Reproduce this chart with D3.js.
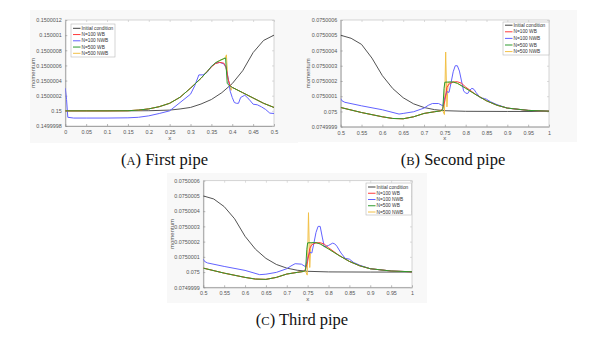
<!DOCTYPE html>
<html><head><meta charset="utf-8">
<script src="https://cdn.jsdelivr.net/npm/d3@7"></script>
<style>html,body{margin:0;padding:0;background:#fff}svg{display:block}</style>
</head><body><svg id="c" width="591" height="342"></svg>
<script>
// ---------- DATA (momentum values) ----------
const seriesNames = ["Initial condition","N=100 WB","N=100 NWB","N=500 WB","N=500 NWB"];
const seriesColors = ["#404040","#ff3b3b","#6262ff","#2e9a2e","#f2c046"];

// Panel A : first pipe
const xTicksA = [0,0.05,0.1,0.15,0.2,0.25,0.3,0.35,0.4,0.45,0.5];
const yTicksA = [0.1499998,0.15,0.1500002,0.1500004,0.1500006,0.1500008,0.150001,0.1500012];
const A_init_x = [0,0.05,0.1,0.15,0.2,0.25,0.275,0.3,0.325,0.35,0.375,0.4,0.425,0.45,0.475,0.5];
const A_init_y = [0.15,0.15,0.15,0.15,0.150000002,0.15000001,0.150000025,0.150000045,0.15000009,0.15000015,0.15000024,0.15000036,0.15000053,0.15000077,0.15000093,0.1500010];
const A_r100_x = [0,0.05,0.1,0.15,0.175,0.2,0.225,0.25,0.275,0.3,0.325,0.34,0.35,0.36,0.37,0.38,0.385,0.39,0.395,0.4,0.425,0.45,0.475,0.5];
const A_r100_y = [0.15,0.15,0.15,0.150000002,0.15000001,0.150000026,0.150000055,0.1500001,0.15000018,0.1500003,0.15000043,0.15000052,0.15000058,0.150000625,0.15000064,0.15000063,0.15000058,0.15000042,0.15000033,0.15000031,0.15000024,0.15000017,0.1500001,0.150000045];
const A_b100_x = [0,0.003,0.006,0.02,0.05,0.1,0.15,0.175,0.2,0.225,0.25,0.275,0.3,0.31,0.32,0.33,0.34,0.35,0.36,0.37,0.38,0.385,0.39,0.395,0.4,0.405,0.41,0.415,0.42,0.43,0.44,0.45,0.46,0.47,0.48,0.49,0.5];
const A_b100_y = [0.1500003,0.15000015,0.149999915,0.149999905,0.149999905,0.149999905,0.149999908,0.149999915,0.149999934,0.149999965,0.15,0.15000011,0.15000022,0.15000033,0.150000475,0.150000475,0.15000051,0.15000059,0.15000063,0.15000064,0.15000062,0.15000057,0.15000044,0.15000026,0.150000176,0.15000011,0.1500001,0.1500001,0.150000176,0.150000207,0.150000154,0.150000088,0.15000008,0.150000053,0.150000018,0.14999997,0.149999965];
const A_g500_x = [0,0.05,0.1,0.15,0.175,0.2,0.225,0.25,0.275,0.3,0.325,0.34,0.35,0.36,0.37,0.38,0.384,0.388,0.392,0.4,0.425,0.45,0.475,0.5];
const A_g500_y = [0.15,0.15,0.15,0.150000002,0.15000001,0.150000026,0.150000055,0.1500001,0.15000018,0.1500003,0.15000043,0.15000052,0.150000585,0.150000635,0.150000665,0.15000069,0.1500007,0.15000036,0.15000034,0.15000031,0.15000024,0.15000017,0.1500001,0.150000045];
const A_y500_x = [0,0.05,0.1,0.15,0.175,0.2,0.225,0.25,0.275,0.3,0.325,0.34,0.35,0.36,0.37,0.38,0.384,0.386,0.389,0.393,0.397,0.4,0.425,0.45,0.475,0.5];
const A_y500_y = [0.15,0.15,0.15,0.150000002,0.15000001,0.150000026,0.150000055,0.1500001,0.15000018,0.1500003,0.15000043,0.15000052,0.150000585,0.150000635,0.150000665,0.15000069,0.15000071,0.15000074,0.15000045,0.15000035,0.15000027,0.15000031,0.15000024,0.15000017,0.1500001,0.150000045];

// Panel B : second pipe
const xTicksB = [0.5,0.55,0.6,0.65,0.7,0.75,0.8,0.85,0.9,0.95,1];
const yTicksB = [0.0749999,0.075,0.0750001,0.0750002,0.0750003,0.0750004,0.0750005,0.0750006];
const B_init_x = [0.5,0.525,0.55,0.575,0.6,0.625,0.65,0.675,0.7,0.725,0.75,0.8,0.9,1];
const B_init_y = [0.0750005,0.07500048,0.07500044,0.07500035,0.075000235,0.07500015,0.07500009,0.07500005,0.075000026,0.075000012,0.075000005,0.075000001,0.075,0.075];
const B_r100_x = [0.5,0.55,0.6,0.625,0.65,0.675,0.7,0.725,0.74,0.745,0.75,0.755,0.76,0.77,0.78,0.79,0.8,0.825,0.85,0.875,0.9,0.95,1];
const B_r100_y = [0.075000026,0.074999993,0.074999965,0.074999954,0.074999952,0.074999965,0.074999987,0.074999998,0.075000004,0.07500002,0.07500007,0.075000157,0.07500018,0.075000193,0.075000195,0.075000185,0.07500016,0.07500011,0.07500007,0.075000041,0.075000022,0.075000007,0.075000002];
const B_b100_x = [0.5,0.503,0.51,0.55,0.6,0.64,0.65,0.675,0.7,0.71,0.72,0.735,0.745,0.75,0.755,0.76,0.765,0.77,0.775,0.78,0.785,0.79,0.795,0.8,0.805,0.81,0.815,0.82,0.825,0.835,0.845,0.85,0.86,0.875,0.9,0.95,1];
const B_b100_y = [0.075000085,0.07500007,0.07500006,0.075000037,0.075000011,0.074999983,0.074999987,0.074999998,0.075000022,0.07500004,0.075000052,0.075000052,0.075000037,0.07500009,0.07500013,0.075000125,0.07500019,0.07500026,0.0750003,0.0750003,0.075000265,0.0750002,0.075000135,0.07500012,0.075000118,0.07500014,0.075000152,0.075000145,0.075000124,0.07500009,0.075000085,0.07500008,0.075000063,0.075000045,0.075000022,0.075000007,0.075000002];
const B_g500_x = [0.5,0.55,0.6,0.625,0.65,0.675,0.7,0.725,0.74,0.745,0.748,0.75,0.76,0.77,0.78,0.8,0.825,0.85,0.875,0.9,0.95,1];
const B_g500_y = [0.075000026,0.074999993,0.074999965,0.074999954,0.074999952,0.074999965,0.074999987,0.074999998,0.075000004,0.07500001,0.07500015,0.075000192,0.075000193,0.075000193,0.075000185,0.075000152,0.075000109,0.07500007,0.075000041,0.075000022,0.075000007,0.075000002];
const B_y500_x = [0.5,0.55,0.6,0.625,0.65,0.675,0.7,0.725,0.74,0.745,0.749,0.752,0.755,0.758,0.762,0.77,0.78,0.8,0.825,0.85,0.875,0.9,0.95,1];
const B_y500_y = [0.075000026,0.074999993,0.074999965,0.074999954,0.074999952,0.074999965,0.074999987,0.074999998,0.075000004,0.075000005,0.07499998,0.07500039,0.07500003,0.07500019,0.075000193,0.075000193,0.075000185,0.075000152,0.075000109,0.07500007,0.075000041,0.075000022,0.075000007,0.075000002];

// Panel C : third pipe
const xTicksC = [0.5,0.55,0.6,0.65,0.7,0.75,0.8,0.85,0.9,0.95,1];
const yTicksC = [0.0749999,0.075,0.0750001,0.0750002,0.0750003,0.0750004,0.0750005,0.0750006];
const C_init_x = [0.5,0.525,0.55,0.575,0.6,0.625,0.65,0.675,0.7,0.725,0.75,0.8,0.9,1];
const C_init_y = [0.0750005,0.07500048,0.07500043,0.07500035,0.075000235,0.07500015,0.07500009,0.07500005,0.075000026,0.075000012,0.075000005,0.075000001,0.075,0.075];
const C_r100_x = [0.5,0.55,0.6,0.625,0.65,0.675,0.7,0.725,0.74,0.745,0.75,0.755,0.76,0.77,0.78,0.79,0.8,0.825,0.85,0.875,0.9,0.95,1];
const C_r100_y = [0.075000026,0.074999993,0.074999965,0.074999954,0.074999952,0.074999965,0.074999987,0.074999998,0.075000004,0.07500002,0.07500007,0.075000155,0.07500018,0.075000192,0.075000193,0.075000183,0.07500016,0.07500011,0.07500007,0.075000041,0.075000022,0.075000007,0.075000002];
const C_b100_x = [0.5,0.503,0.51,0.55,0.6,0.635,0.65,0.675,0.7,0.71,0.72,0.735,0.745,0.75,0.755,0.76,0.765,0.77,0.775,0.78,0.785,0.79,0.8,0.81,0.815,0.82,0.83,0.84,0.85,0.86,0.875,0.9,0.95,1];
const C_b100_y = [0.075000085,0.07500007,0.07500006,0.075000037,0.075000011,0.074999983,0.074999986,0.074999998,0.075000022,0.07500004,0.075000055,0.075000052,0.075000035,0.07500009,0.07500013,0.075000125,0.07500019,0.07500026,0.0750003,0.0750003,0.07500023,0.075000165,0.075000175,0.07500019,0.075000185,0.07500017,0.075000125,0.07500009,0.075000085,0.075000063,0.075000045,0.075000022,0.075000007,0.075000002];
const C_g500_x = [0.5,0.55,0.6,0.625,0.65,0.675,0.7,0.725,0.74,0.745,0.748,0.75,0.76,0.77,0.78,0.8,0.825,0.85,0.875,0.9,0.95,1];
const C_g500_y = [0.075000026,0.074999993,0.074999965,0.074999954,0.074999952,0.074999965,0.074999987,0.074999998,0.075000004,0.07500001,0.07500015,0.075000192,0.075000193,0.075000193,0.075000185,0.075000152,0.075000109,0.07500007,0.075000041,0.075000022,0.075000007,0.075000002];
const C_y500_x = [0.5,0.55,0.6,0.625,0.65,0.675,0.7,0.725,0.74,0.745,0.749,0.752,0.755,0.758,0.762,0.77,0.78,0.8,0.825,0.85,0.875,0.9,0.95,1];
const C_y500_y = [0.075000026,0.074999993,0.074999965,0.074999954,0.074999952,0.074999965,0.074999987,0.074999998,0.075000004,0.075000005,0.07499998,0.07500039,0.07500003,0.07500019,0.075000193,0.075000193,0.075000185,0.075000152,0.075000109,0.07500007,0.075000041,0.075000022,0.075000007,0.075000002];

const captions = [["(","A",") First pipe"],["(","B",") Second pipe"],["(","C",") Third pipe"]];

// ---------- LAYOUT ----------
const panels = [
  {box:{l:65.3,r:274,t:20,b:126}, bg:{x:30,y:10,w:268,h:133}, xTicks:xTicksA, yTicks:yTicksA,
   series:[[A_init_x,A_init_y],[A_r100_x,A_r100_y],[A_b100_x,A_b100_y],[A_g500_x,A_g500_y],[A_y500_x,A_y500_y]],
   leg:{x:71,y:24,w:44,h:33,row0:28.3,dy:6.25}, ylabX:33, cap:{x:164.5,y:165}, cap_i:0},
  {box:{l:340.7,r:549,t:20,b:126.7}, bg:{x:293,y:10,w:284,h:132}, xTicks:xTicksB, yTicks:yTicksB,
   series:[[B_init_x,B_init_y],[B_r100_x,B_r100_y],[B_b100_x,B_b100_y],[B_g500_x,B_g500_y],[B_y500_x,B_y500_y]],
   leg:{x:503,y:22,w:46,h:33,row0:25.2,dy:6.6}, ylabX:308.3, cap:{x:453,y:165}, cap_i:1},
  {box:{l:203.3,r:412,t:180.7,b:287.3}, bg:{x:167,y:173,w:260,h:130}, xTicks:xTicksC, yTicks:yTicksC,
   series:[[C_init_x,C_init_y],[C_r100_x,C_r100_y],[C_b100_x,C_b100_y],[C_g500_x,C_g500_y],[C_y500_x,C_y500_y]],
   leg:{x:366,y:183,w:45.5,h:32,row0:187,dy:6.25}, ylabX:171.7, cap:{x:302,y:325}, cap_i:2}
];
const drawOrder = [0,4,2,1,3];
const fmt = v => String(+v.toFixed(7));
const svg = d3.select("#c");
const tickFont = "Liberation Sans, Arial, sans-serif";

panels.forEach(p => {
  const b = p.box;
  const g = svg.append("g");
  g.append("rect").attr("x",p.bg.x).attr("y",p.bg.y).attr("width",p.bg.w).attr("height",p.bg.h).attr("fill","#f8f8f8");
  g.append("rect").attr("x",b.l).attr("y",b.t).attr("width",b.r-b.l).attr("height",b.b-b.t).attr("fill","#fff");
  const xs = d3.scaleLinear().domain([p.xTicks[0], p.xTicks[p.xTicks.length-1]]).range([b.l,b.r]);
  const ys = d3.scaleLinear().domain([p.yTicks[0], p.yTicks[p.yTicks.length-1]]).range([b.b,b.t]);
  g.append("rect").attr("x",b.l).attr("y",b.t).attr("width",b.r-b.l).attr("height",b.b-b.t)
    .attr("fill","none").attr("stroke","#c4c4c4").attr("stroke-width",0.7);
  const xAx = d3.axisBottom(xs).tickValues(p.xTicks).tickFormat(fmt).tickSizeInner(-2).tickSizeOuter(0).tickPadding(4);
  const yAx = d3.axisLeft(ys).tickValues(p.yTicks).tickFormat(fmt).tickSizeInner(-2).tickSizeOuter(0).tickPadding(3.5);
  const xg = g.append("g").attr("transform",`translate(0,${b.b})`).call(xAx);
  const yg = g.append("g").attr("transform",`translate(${b.l},0)`).call(yAx);
  const xt = d3.axisTop(xs).tickValues(p.xTicks).tickFormat("").tickSizeInner(-2).tickSizeOuter(0);
  const yr = d3.axisRight(ys).tickValues(p.yTicks).tickFormat("").tickSizeInner(-2).tickSizeOuter(0);
  const tg = g.append("g").attr("transform",`translate(0,${b.t})`).call(xt);
  const rg = g.append("g").attr("transform",`translate(${b.r},0)`).call(yr);
  [tg,rg].forEach(a=>{a.select(".domain").remove(); a.selectAll("line").attr("stroke","#c4c4c4").attr("stroke-width",0.6);});
  [xg,yg].forEach(a=>{
    a.select(".domain").attr("stroke","#8a8a8a").attr("stroke-width",0.7);
    a.selectAll("line").attr("stroke","#8a8a8a").attr("stroke-width",0.6);
    a.selectAll("text").attr("fill","#555").attr("font-size",5.4).attr("font-family",tickFont);
  });
  g.append("text").attr("x",(b.l+b.r)/2).attr("y",b.b+13.5).attr("text-anchor","middle")
    .attr("font-size",6).attr("font-family",tickFont).attr("fill","#555").text("x");
  g.append("text").attr("transform",`translate(${p.ylabX},${(b.t+b.b)/2}) rotate(-90)`).attr("text-anchor","middle")
    .attr("dy","0.35em").attr("font-size",6).attr("font-family",tickFont).attr("fill","#555").text("momentum");
  const line = d3.line().x(d=>xs(d[0])).y(d=>ys(d[1]));
  const clipId = "clip"+p.cap_i;
  g.append("clipPath").attr("id",clipId).append("rect").attr("x",b.l).attr("y",b.t).attr("width",b.r-b.l).attr("height",b.b-b.t);
  const lg = g.append("g").attr("clip-path",`url(#${clipId})`);
  drawOrder.forEach(si => {
    const [xa,ya] = p.series[si];
    const pts = xa.map((x,i)=>[x,ya[i]]);
    lg.append("path").datum(pts).attr("d",line).attr("fill","none")
      .attr("stroke",seriesColors[si]).attr("stroke-width",si===0?0.9:1);
  });
  const L = p.leg;
  g.append("rect").attr("x",L.x).attr("y",L.y).attr("width",L.w).attr("height",L.h)
    .attr("fill","#fff").attr("stroke","#b8b8b8").attr("stroke-width",0.6);
  seriesNames.forEach((n,i)=>{
    const yy = L.row0 + i*L.dy;
    g.append("line").attr("x1",L.x+2).attr("x2",L.x+9.5).attr("y1",yy).attr("y2",yy)
      .attr("stroke",seriesColors[i]).attr("stroke-width",1);
    g.append("text").attr("x",L.x+10.5).attr("y",yy).attr("dy","0.35em").attr("font-size",4.8)
      .attr("font-family",tickFont).attr("fill","#333").text(n);
  });
  const c = captions[p.cap_i];
  const t = svg.append("text").attr("x",p.cap.x).attr("y",p.cap.y).attr("text-anchor","middle")
    .attr("font-family","Liberation Serif, Times New Roman, serif").attr("font-size",16.5).attr("fill","#111");
  t.append("tspan").text(c[0]);
  t.append("tspan").attr("font-size",12.5).text(c[1]);
  t.append("tspan").text(c[2]);
});
</script></body></html>
